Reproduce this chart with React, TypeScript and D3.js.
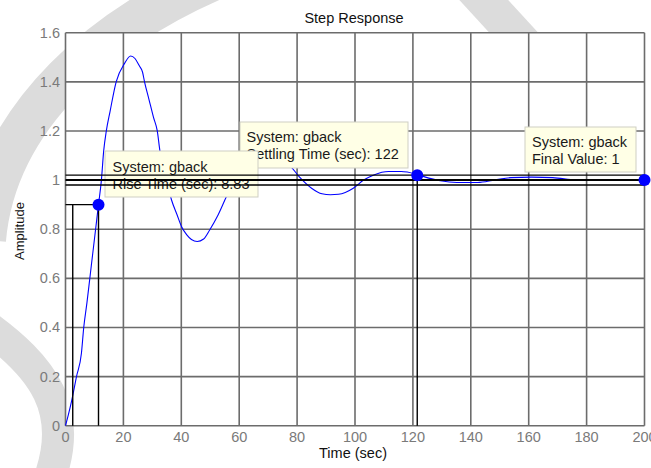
import React from "react";
import * as d3 from "d3";

const timeSec = [0, 1.0, 2.1, 3.8, 5.5, 6.3, 7.4, 8.4, 9.4, 10.4, 11.4, 12.4, 13.2, 14.1, 15.4, 17.5, 20.4, 22.5, 24, 25.5, 26.6, 27.3, 28.8, 30.4, 31.7, 32.6, 34.5, 36.6, 38.5, 40.1, 41.9, 43.5, 45.5, 47.7, 49.8, 52.7, 55.6, 58, 61, 64, 67, 70, 73, 76, 77.8, 80.7, 85, 88.6, 91.5, 94.3, 99.4, 103, 106.5, 111.6, 115.9, 120.9, 123.8, 129.5, 135.2, 142.4, 148.2, 153.9, 161, 168.3, 176.2, 184, 192.7, 200];
const amplitude = [0, 0.045, 0.1, 0.2, 0.295, 0.4, 0.5, 0.6, 0.7, 0.8, 0.9, 1.0, 1.12, 1.2, 1.28, 1.4, 1.475, 1.505, 1.495, 1.465, 1.44, 1.4, 1.33, 1.255, 1.2, 1.12, 1.02, 0.92, 0.86, 0.81, 0.777, 0.758, 0.75, 0.76, 0.797, 0.858, 0.933, 0.99, 1.05, 1.09, 1.11, 1.105, 1.09, 1.07, 1.055, 1.014, 0.967, 0.944, 0.94, 0.942, 0.967, 1.0, 1.021, 1.035, 1.035, 1.025, 1.014, 0.997, 0.99, 0.99, 1.0, 1.01, 1.012, 1.01, 1.0, 0.998, 0.999, 1.0];

const xTicks = [0, 20, 40, 60, 80, 100, 120, 140, 160, 180, 200];
const yTicks = [0, 0.2, 0.4, 0.6, 0.8, 1, 1.2, 1.4, 1.6];
const settlingBand = [0.98, 1.0, 1.02];

const riseT10 = 2.5;
const riseT90 = 11.4;
const riseLevel = 0.9;
const settleT = 121.5;
const settleLevel = 1.02;
const finalT = 200;
const finalValue = 1;

const titleText = "Step Response";
const xLabel = "Time (sec)";
const yLabel = "Amplitude";
const tipRise = ["System: gback", "Rise Time (sec): 8.83"];
const tipSettle = ["System: gback", "Settling Time (sec): 122"];
const tipFinal = ["System: gback", "Final Value: 1"];

export default function App() {
  const W = 651, H = 468;
  const x = d3.scaleLinear().domain([0, 200]).range([65.5, 644.5]);
  const y = d3.scaleLinear().domain([0, 1.6]).range([425.7, 32.7]);
  const pts = timeSec.map((t, i) => [t, amplitude[i]] as [number, number]);
  const line = d3.line<[number, number]>().x(d => x(d[0])).y(d => y(d[1])).curve(d3.curveMonotoneX);
  const font = "'Liberation Sans', Arial, Helvetica, sans-serif";
  const grid = "#6c6c6c";
  const tipFill = "#ffffe6";
  const tipStroke = "#cfcfc4";

  const tip = (bx: number, by: number, bw: number, bh: number, lines: string[], tx: number, b1: number) => (
    <g>
      <rect x={bx} y={by} width={bw} height={bh} fill={tipFill} stroke={tipStroke} strokeWidth={1} />
      {lines.map((s, i) => (
        <text key={i} x={tx} y={b1 + i * 17} fontSize={14.5} fill="#1a1a1a" fontFamily={font}>{s}</text>
      ))}
    </g>
  );

  return (
    <svg width={W} height={H} style={{ position: "absolute", left: 0, top: 0, background: "#fff" }}>
      {/* watermark */}
      <g fill="none" stroke="#dcdcdc" strokeLinecap="butt">
        <path d="M -15,240 C -5,120 100,20 250,-35" strokeWidth={42} />
        <path d="M -15,325 C 40,365 80,410 45,490" strokeWidth={32} />
        <path d="M 470,-15 L 525,45" strokeWidth={36} />
      </g>
      <rect x={x(0)} y={y(1.6)} width={x(200) - x(0)} height={y(0) - y(1.6)} fill="#fff" />
      {/* grid */}
      <g stroke={grid} strokeWidth={1.6}>
        {xTicks.map(t => (
          <line key={"gx" + t} x1={x(t)} x2={x(t)} y1={y(0)} y2={y(1.6)} />
        ))}
        {yTicks.map(v => (
          <line key={"gy" + v} x1={x(0)} x2={x(200)} y1={y(v)} y2={y(v)} />
        ))}
      </g>
      {/* tick labels */}
      <g fontFamily={font} fontSize={14.5} fill="#7a7a7a">
        {xTicks.map(t => (
          <text key={"tx" + t} x={x(t)} y={442} textAnchor="middle">{t}</text>
        ))}
        {yTicks.map(v => (
          <text key={"ty" + v} x={60} y={y(v) + 5} textAnchor="end">{d3.format("~g")(v)}</text>
        ))}
      </g>
      <text x={354} y={22.5} textAnchor="middle" fontFamily={font} fontSize={14.5} fill="#111">{titleText}</text>
      <text x={353} y={458} textAnchor="middle" fontFamily={font} fontSize={14.5} fill="#111">{xLabel}</text>
      <text transform={`translate(24,231) rotate(-90)`} textAnchor="middle" fontFamily={font} fontSize={13} fill="#111">{yLabel}</text>
      {/* response curve */}
      <path d={line(pts) || ""} fill="none" stroke="#0000ff" strokeWidth={1.1} />
      {/* data tips */}
      {tip(240, 122, 168, 46, tipSettle, 246.5, 141.5)}
      {tip(105, 151, 153, 46, tipRise, 112.5, 171.5)}
      {tip(525, 127, 111, 45, tipFinal, 532, 146.5)}
      {/* characteristic lines */}
      <g stroke="#000" strokeWidth={1.4}>
        {settlingBand.map(v => (
          <line key={"sb" + v} x1={x(0)} x2={x(200)} y1={y(v)} y2={y(v)} strokeWidth={v === 1 ? 2 : 1.4} />
        ))}
        <line x1={x(0)} x2={x(riseT90)} y1={y(riseLevel)} y2={y(riseLevel)} />
        <line x1={x(riseT10)} x2={x(riseT10)} y1={y(0)} y2={y(riseLevel)} />
        <line x1={x(riseT90)} x2={x(riseT90)} y1={y(0)} y2={y(riseLevel)} />
        <line x1={x(settleT)} x2={x(settleT)} y1={y(0)} y2={y(settleLevel)} />
      </g>
      {/* markers */}
      <g fill="#0000ff">
        <circle cx={x(riseT90)} cy={y(riseLevel)} r={6} />
        <circle cx={x(settleT)} cy={y(settleLevel)} r={6} />
        <circle cx={x(finalT)} cy={y(finalValue)} r={6} />
      </g>
    </svg>
  );
}
